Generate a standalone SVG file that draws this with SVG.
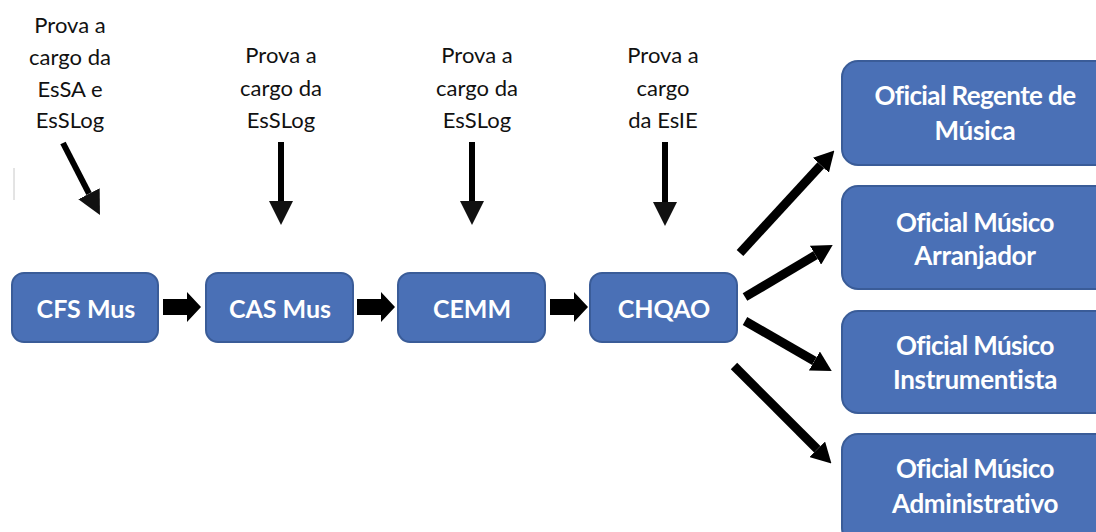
<svg xmlns="http://www.w3.org/2000/svg" width="1096" height="532" viewBox="0 0 1096 532">
<style>
.box{fill:#4a70b6;stroke:#3a5c98;stroke-width:2}
.bt{font-family:Lato,"Liberation Sans",sans-serif;font-weight:bold;fill:#fff;text-anchor:middle}
.lbl{font-family:Lato,"Liberation Sans",sans-serif;font-size:22px;fill:#111;text-anchor:middle}
.ar{stroke:#000;stroke-width:6;fill:none}
.ad{stroke:#000;stroke-width:9;fill:none}
</style>
<defs>
<marker id="hd" markerUnits="userSpaceOnUse" markerWidth="24" markerHeight="24" refX="0" refY="12" orient="auto"><path d="M0,0 L24,12 L0,24 z" fill="#111"/></marker>
<marker id="hs" markerUnits="userSpaceOnUse" markerWidth="20" markerHeight="22" refX="0" refY="11" orient="auto"><path d="M0,0 L20,11 L0,22 z" fill="#000"/></marker>
</defs>
<rect width="1096" height="532" fill="#fff"/>
<line x1="14" y1="168" x2="14" y2="200" stroke="#c8c8c8" stroke-width="1"/>
<g id="label1"><text class="lbl" x="70" y="33">Prova a</text><text class="lbl" x="70" y="65">cargo da</text><text class="lbl" x="70" y="97">EsSA e</text><text class="lbl" x="70" y="128">EsSLog</text></g>
<g id="label2"><text class="lbl" x="281" y="63">Prova a</text><text class="lbl" x="281" y="96">cargo da</text><text class="lbl" x="281" y="128">EsSLog</text></g>
<g id="label3"><text class="lbl" x="477" y="63">Prova a</text><text class="lbl" x="477" y="96">cargo da</text><text class="lbl" x="477" y="128">EsSLog</text></g>
<g id="label4"><text class="lbl" x="663" y="63">Prova a</text><text class="lbl" x="663" y="96">cargo</text><text class="lbl" x="663" y="128">da EsIE</text></g>
<g id="cfs"><rect class="box" x="12" y="273" width="146" height="69" rx="12"/><text class="bt" x="86" y="318" font-size="25">CFS Mus</text></g>
<g id="cas"><rect class="box" x="206" y="273" width="147" height="69" rx="12"/><text class="bt" x="280" y="318" font-size="25">CAS Mus</text></g>
<g id="cemm"><rect class="box" x="398" y="273" width="147" height="69" rx="12"/><text class="bt" x="472" y="318" font-size="25">CEMM</text></g>
<g id="chqao"><rect class="box" x="590" y="273" width="147" height="69" rx="12"/><text class="bt" x="664" y="318" font-size="25">CHQAO</text></g>
<g id="regente"><rect class="box" x="842" y="61" width="270" height="104" rx="16"/><text class="bt" x="975" y="105" font-size="26" letter-spacing="-0.6">Oficial Regente de</text><text class="bt" x="975" y="140" font-size="26" letter-spacing="-0.3">Música</text></g>
<g id="arranjador"><rect class="box" x="842" y="186" width="270" height="103" rx="16"/><text class="bt" x="975" y="232" font-size="26" letter-spacing="-0.6">Oficial Músico</text><text class="bt" x="975" y="265" font-size="26" letter-spacing="-0.3">Arranjador</text></g>
<g id="instrumentista"><rect class="box" x="842" y="311" width="270" height="102" rx="16"/><text class="bt" x="975" y="355" font-size="26" letter-spacing="-0.6">Oficial Músico</text><text class="bt" x="975" y="389" font-size="26" letter-spacing="-0.3">Instrumentista</text></g>
<g id="administrativo"><rect class="box" x="842" y="434" width="270" height="110" rx="16"/><text class="bt" x="975" y="478" font-size="26" letter-spacing="-0.6">Oficial Músico</text><text class="bt" x="975" y="513" font-size="26" letter-spacing="-0.3">Administrativo</text></g>
<g id="connectors">
<polygon points="163,299 187,299 187,292 201,307 187,322 187,315 163,315" fill="#000"/>
<polygon points="357,299 381,299 381,292 395,307 381,322 381,315 357,315" fill="#000"/>
<polygon points="550,299 574,299 574,292 588,307 574,322 574,315 550,315" fill="#000"/>
<line class="ar" x1="63" y1="143" x2="89" y2="193.7" marker-end="url(#hd)"/>
<line class="ar" x1="281" y1="142" x2="281" y2="201" marker-end="url(#hd)"/>
<line class="ar" x1="472" y1="142" x2="472" y2="201" marker-end="url(#hd)"/>
<line class="ar" x1="665" y1="142" x2="665" y2="202" marker-end="url(#hd)"/>
<line class="ad" x1="740" y1="253" x2="820.8" y2="165.2" marker-end="url(#hs)"/>
<line class="ad" x1="745" y1="297" x2="815.5" y2="255.2" marker-end="url(#hs)"/>
<line class="ad" x1="745" y1="321" x2="814.4" y2="361" marker-end="url(#hs)"/>
<line class="ad" x1="734" y1="366" x2="817.3" y2="449.3" marker-end="url(#hs)"/>
</g>
</svg>
